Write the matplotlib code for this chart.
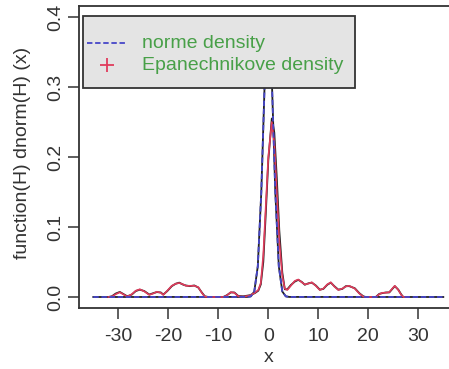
import matplotlib
matplotlib.use("Agg")
import matplotlib.pyplot as plt
from matplotlib.patches import Rectangle

plt.rcParams['font.family'] = ['Liberation Sans', 'DejaVu Sans']

# Normal density curve (sampled as drawn, step 0.7)
norm_x = [-35, -4.2, -3.5, -2.8, -2.1, -1.4, -0.7, 0, 0.7, 1.4, 2.1, 2.8, 3.5, 4.2, 35]
norm_y = [0, 0.0001, 0.0009, 0.0079, 0.044, 0.150, 0.312, 0.399, 0.312, 0.150, 0.044, 0.0079, 0.0009, 0.0001, 0]

# Epanechnikov kernel density (red)
epa_x = [-32, -31.3, -30.5, -29.7, -28.8, -28.2, -27.3, -26.5, -25.7, -24.8, -23.8, -23, -22.3,
         -21.5, -21, -20.2, -19.3, -18.5, -17.8, -17, -16.5, -15.7, -14.8, -14, -13.3, -12.7,
         -12, -9, -8.3, -7.5, -6.8, -6, -5, -3.7, -2.7, -2, -1.5, -1, -0.5, 0, 0.7, 1.2, 1.7,
         2.2, 2.8, 3.3, 3.8, 4.5, 5.3, 6, 6.7, 7.3, 8, 8.7, 9.5, 10.3, 11, 11.8, 12.5, 13.2,
         14, 14.8, 15.5, 16.2, 17.3, 18.2, 19, 19.5, 21.5, 22.2, 22.8, 23.5, 24.2, 24.8, 25.3,
         26, 26.6, 27, 28]
epa_y = [0, 0.0005, 0.004, 0.0067, 0.003, 0.0005, 0.004, 0.009, 0.011, 0.008, 0.003, 0.005, 0.0075,
         0.006, 0.003, 0.009, 0.016, 0.019, 0.020, 0.018, 0.016, 0.016, 0.016, 0.014, 0.006, 0.0005,
         0, 0, 0.002, 0.007, 0.006, 0.001, 0.0005, 0.002, 0.006, 0.010, 0.020, 0.060, 0.130, 0.200,
         0.250, 0.220, 0.150, 0.080, 0.030, 0.012, 0.010, 0.016, 0.023, 0.025, 0.021, 0.018, 0.019,
         0.021, 0.016, 0.010, 0.012, 0.018, 0.021, 0.015, 0.010, 0.012, 0.015, 0.016, 0.012, 0.005,
         0.0005, 0, 0, 0.004, 0.006, 0.006, 0.007, 0.012, 0.016, 0.010, 0.003, 0, 0]

# Gaussian kernel density (black)
gau_x = [-32, -31.3, -30.5, -29.7, -28.8, -28.2, -27.3, -26.5, -25.7, -24.8, -23.8, -23, -22.3,
         -21.5, -21, -20.2, -19.3, -18.5, -17.8, -17, -16.5, -15.7, -14.8, -14, -13.3, -12.7,
         -12, -9, -8.3, -7.5, -6.8, -6, -5, -3.7, -2.7, -2, -1.5, -1, -0.5, 0, 0.7, 1.2, 1.7,
         2.2, 2.8, 3.3, 3.8, 4.5, 5.3, 6, 6.7, 7.3, 8, 8.7, 9.5, 10.3, 11, 11.8, 12.5, 13.2,
         14, 14.8, 15.5, 16.2, 17.3, 18.2, 19, 19.5, 21.5, 22.2, 22.8, 23.5, 24.2, 24.8, 25.3,
         26, 26.6, 27, 28]
gau_y = [0, 0.001, 0.005, 0.0072, 0.0035, 0.001, 0.0035, 0.0085, 0.0105, 0.0085, 0.0035, 0.0055, 0.007,
         0.0065, 0.0035, 0.0085, 0.0155, 0.019, 0.0205, 0.0175, 0.0165, 0.0155, 0.0165, 0.0135, 0.0065, 0.001,
         0, 0, 0.0025, 0.0065, 0.0065, 0.0015, 0.001, 0.0025, 0.0055, 0.009, 0.018, 0.050, 0.120, 0.195,
         0.255, 0.235, 0.170, 0.095, 0.035, 0.011, 0.011, 0.017, 0.022, 0.0245, 0.0215, 0.0175, 0.0195,
         0.0205, 0.0165, 0.0105, 0.0115, 0.0175, 0.0205, 0.0155, 0.0105, 0.0115, 0.0155, 0.0155, 0.0125, 0.0055,
         0.001, 0, 0, 0.0045, 0.0055, 0.0065, 0.0065, 0.0115, 0.0155, 0.0105, 0.0035, 0, 0]

x_ticks = [-30, -20, -10, 0, 10, 20, 30]
y_ticks = [0.0, 0.1, 0.2, 0.3, 0.4]
y_tick_labels = ["0.0", "0.1", "0.2", "0.3", "0.4"]
legend_labels = ["norme density", "Epanechnikove density"]

W, H = 449, 369
fig = plt.figure(figsize=(W / 100, H / 100), dpi=100)
ax_l, ax_r, ax_t, ax_b = 79.3, 457.3, 5.8, 308.2
ax = fig.add_axes([ax_l / W, (H - ax_b) / H, (ax_r - ax_l) / W, (ax_b - ax_t) / H])

blue = '#4646c8'
red = '#e03c5c'
green = '#48a048'
box_col = '#333333'
txt_col = '#333333'

ax.plot(norm_x, norm_y, color='#222222', lw=1.3, zorder=2)
ax.plot(gau_x, gau_y, color='#222222', lw=1.3, zorder=3)
ax.plot(epa_x, epa_y, color=red, lw=1.2, zorder=4)
ax.plot(norm_x, norm_y, color=blue, lw=1.3, linestyle=(0, (3, 1.5)), zorder=5)

ax.set_xlim(-37.8, 37.8)
ax.set_ylim(-0.016, 0.416)
ax.set_xticks(x_ticks)
ax.set_xticklabels([str(v) for v in x_ticks])
ax.set_yticks(y_ticks)
ax.set_yticklabels(y_tick_labels, rotation=90, va='center')

for s in ax.spines.values():
    s.set_color(box_col)
    s.set_linewidth(1.3)

ax.tick_params(axis='both', direction='out', length=8, width=1.1, color=box_col,
               labelsize=14, labelcolor=txt_col)
ax.tick_params(axis='x', pad=6)
ax.tick_params(axis='y', pad=3)

def fx(px):
    return (px - ax_l) / (ax_r - ax_l)

def fy(py):
    return (ax_b - py) / (ax_b - ax_t)

ax.set_xlabel('x', fontsize=14, color=txt_col)
ax.set_ylabel('function(H) dnorm(H) (x)', fontsize=14, color=txt_col)
ax.xaxis.set_label_coords(fx(268.3), fy(357))
ax.xaxis.label.set_va('center')
ax.yaxis.set_label_coords(fx(23), fy(153))
ax.yaxis.label.set_va('center')

# Legend drawn manually
ax.add_patch(Rectangle((fx(83), fy(88)), fx(355) - fx(83), fy(16) - fy(88),
                       transform=ax.transAxes, facecolor='#e4e4e4', edgecolor=box_col,
                       lw=1.3, zorder=10))
ax.plot([fx(87), fx(125)], [fy(43), fy(43)], transform=ax.transAxes, color=blue,
        lw=1.3, linestyle=(0, (3, 1.5)), zorder=11)
ax.plot([fx(107)], [fy(65)], transform=ax.transAxes, marker='+', markersize=10,
        mew=1.3, color=red, linestyle='none', zorder=11)
ax.text(fx(142), fy(43), legend_labels[0], transform=ax.transAxes, fontsize=14,
        color=green, va='center', ha='left', zorder=11)
ax.text(fx(142), fy(65), legend_labels[1], transform=ax.transAxes, fontsize=14,
        color=green, va='center', ha='left', zorder=11)

fig.savefig('out.png', dpi=100)
